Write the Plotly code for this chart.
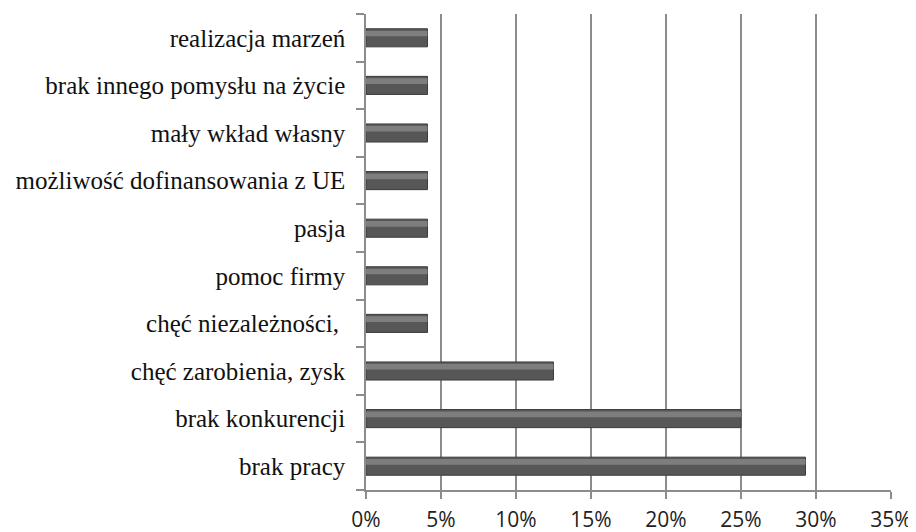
import plotly.graph_objects as go

categories = ["brak pracy", "brak konkurencji", "chęć zarobienia, zysk",
              "chęć niezależności, ", "pomoc firmy", "pasja",
              "możliwość dofinansowania z UE", "mały wkład własny",
              "brak innego pomysłu na życie", "realizacja marzeń"]
values = [29.3, 25.0, 12.5, 4.1, 4.1, 4.1, 4.1, 4.1, 4.1, 4.1]
tick_vals = [0, 5, 10, 15, 20, 25, 30, 35]
tick_text = ["0%", "5%", "10%", "15%", "20%", "25%", "30%", "35%"]

fig = go.Figure()
fig.add_trace(go.Bar(
    y=categories, x=values, orientation="h",
    width=0.38, offset=-0.19,
    marker=dict(color="#575757", line=dict(color="#3c3c3c", width=1)),
    hoverinfo="x+y", showlegend=False))
fig.add_trace(go.Bar(
    y=categories, x=values, orientation="h",
    width=0.12, offset=0.03,
    marker=dict(color="#7e7e7e", line=dict(width=0)),
    hoverinfo="skip", showlegend=False))

fig.update_layout(
    width=908, height=524, barmode="overlay",
    margin=dict(l=358, r=25, t=6, b=42),
    plot_bgcolor="white", paper_bgcolor="white",
    xaxis=dict(range=[0, 35], tickvals=tick_vals, ticktext=tick_text,
               automargin=False,
               showgrid=True, gridcolor="#8c8c8c", gridwidth=1.5,
               showline=True, linecolor="#8c8c8c", linewidth=1.5,
               ticks="outside", ticklen=7, tickcolor="#8c8c8c", tickwidth=1.5,
               zeroline=False, ticklabelstandoff=3,
               tickfont=dict(family="Open Sans, Liberation Sans, sans-serif", size=21, color="#222")),
    yaxis=dict(type="category", categoryorder="array", categoryarray=categories,
               automargin=False,
               showline=True, linecolor="#8c8c8c", linewidth=1.5,
               ticks="outside", ticklen=8, tickcolor="#8c8c8c", tickwidth=1.5,
               tickson="boundaries", showgrid=False, ticklabelstandoff=14,
               tickfont=dict(family="Liberation Serif, Times New Roman, serif", size=25, color="#111")),
)
fig.write_html("out.html")
